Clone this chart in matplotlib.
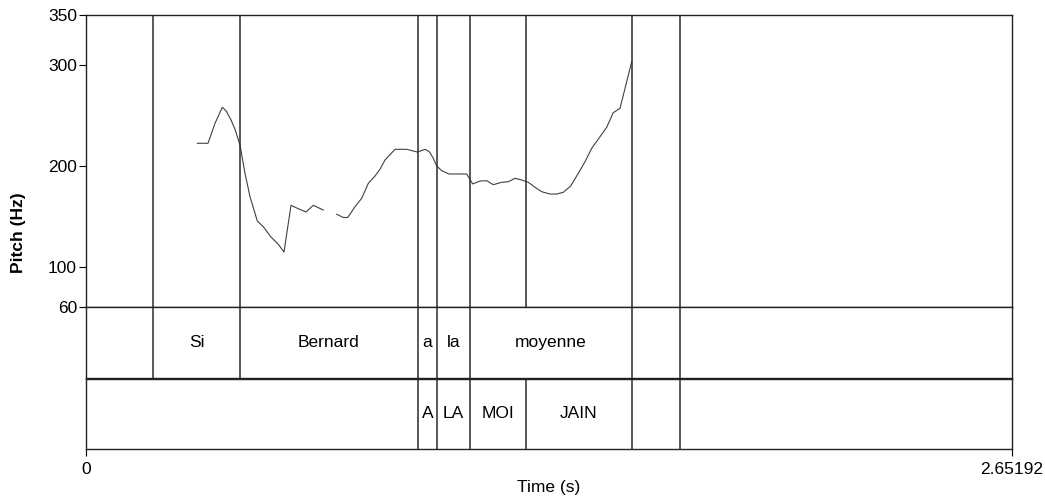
import matplotlib
matplotlib.use("Agg")
import matplotlib.pyplot as plt

plt.rcParams["font.family"] = ["Liberation Sans", "DejaVu Sans"]

# pitch track, two voiced stretches (time in s, pitch in Hz)
t_voiced1 = [0.3188, 0.3494, 0.3694, 0.3903, 0.4009, 0.4144, 0.4267, 0.4410,
             0.4553, 0.4697, 0.4906, 0.5078, 0.5290, 0.5507, 0.5670, 0.5871,
             0.6080, 0.6300, 0.6510, 0.6796]
f0_voiced1 = [222.6, 222.6, 242.4, 258.3, 255.0, 246.4, 236.5, 220.9,
              192.8, 169.5, 145.4, 139.7, 129.8, 122.3, 114.6, 161.0,
              157.6, 154.4, 161.0, 156.3]

t_voiced2 = [0.7180, 0.7369, 0.7495, 0.7704, 0.7896, 0.8085, 0.8277, 0.8420,
             0.8563, 0.8849, 0.9184, 0.9488, 0.9709, 0.9832, 0.9946, 1.0044,
             1.0187, 1.0396, 1.0903, 1.1075, 1.1284, 1.1476, 1.1665, 1.1905,
             1.2094, 1.2286, 1.2478, 1.2667, 1.2859, 1.3050, 1.3288, 1.3480,
             1.3669, 1.3881, 1.4099, 1.4291, 1.4483, 1.4720, 1.4912, 1.5101,
             1.5293, 1.5628]
f0_voiced2 = [152.1, 148.9, 148.9, 159.6, 168.0, 182.8, 190.1, 196.8,
              206.0, 216.6, 216.6, 213.9, 216.6, 214.2, 207.7, 200.0,
              195.4, 192.1, 192.1, 182.2, 185.1, 185.4, 181.5, 183.8,
              184.4, 187.8, 186.1, 183.8, 178.9, 174.5, 172.2, 172.2,
              173.9, 180.2, 192.8, 204.3, 217.6, 229.1, 238.5, 253.0,
              257.3, 303.6]

total_dur = 2.65192

# text grid tiers: interval boundaries and labels
words_bounds = [0.0, 0.1919, 0.4410, 0.9508, 1.0052, 1.0997, 1.5637, 1.7011, total_dur]
words_labels = ["", "Si", "Bernard", "a", "la", "moyenne", "", ""]

syll_bounds = [0.0, 0.9508, 1.0052, 1.0997, 1.2601, 1.5637, 1.7011, total_dur]
syll_labels = ["", "A", "LA", "MOI", "JAIN", "", ""]

pitch_ticks = [60, 100, 200, 300, 350]

FS = 12.5
W, H = 1045, 499
fig = plt.figure(figsize=(W / 100, H / 100), dpi=100)

left = 86 / W
width = 926 / W
ax_p = fig.add_axes([left, 1 - 307 / H, width, 292 / H])
ax_w = fig.add_axes([left, 1 - 377.5 / H, width, 70.5 / H])
ax_s = fig.add_axes([left, 1 - 448.5 / H, width, 69.5 / H])

line_col = "#2b2b2b"

# pitch panel
ax_p.plot(t_voiced1, f0_voiced1, color="#404040", lw=0.8)
ax_p.plot(t_voiced2, f0_voiced2, color="#404040", lw=0.8)
all_bounds = sorted(set(words_bounds[1:-1]) | set(syll_bounds[1:-1]))
for b in all_bounds:
    ax_p.axvline(b, color=line_col, lw=1.1)
ax_p.set_xlim(0, total_dur)
ax_p.set_ylim(60, 350)
ax_p.set_yticks(pitch_ticks)
ax_p.set_yticklabels([str(v) for v in pitch_ticks], fontsize=FS)
ax_p.tick_params(axis="y", length=5, width=0.8, pad=1.5)
ax_p.set_xticks([])


def draw_tier(ax, bounds, labels):
    for b in bounds[1:-1]:
        ax.axvline(b, color=line_col, lw=1.1)
    for i, lab in enumerate(labels):
        if lab:
            mid = (bounds[i] + bounds[i + 1]) / 2
            ax.text(mid, 0.5, lab, ha="center", va="center", fontsize=FS)
    ax.set_xlim(0, total_dur)
    ax.set_ylim(0, 1)
    ax.set_yticks([])


draw_tier(ax_w, words_bounds, words_labels)
ax_w.set_xticks([])
draw_tier(ax_s, syll_bounds, syll_labels)
ax_s.set_xticks([0, total_dur])
ax_s.set_xticklabels(["0", "2.65192"], fontsize=FS)
ax_s.tick_params(axis="x", length=5, width=0.8, pad=5)
ax_s.set_xlabel("Time (s)", fontsize=FS, labelpad=2)

for ax in (ax_p, ax_w, ax_s):
    for sp in ax.spines.values():
        sp.set_color("#222222")
        sp.set_linewidth(1.0)

fig.text(19 / W, 1 - 233 / H, "Pitch (Hz)", rotation=90, ha="center", va="center",
         fontsize=FS, fontweight="bold")

fig.savefig("out.png", dpi=100)
